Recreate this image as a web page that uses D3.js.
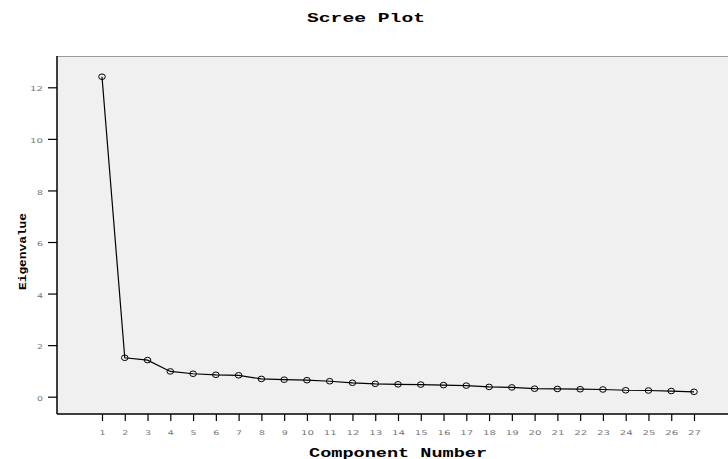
<!DOCTYPE html>
<html>
<head>
<meta charset="utf-8">
<script src="https://cdn.jsdelivr.net/npm/d3@7"></script>
<style>
  body { margin: 0; background: #fff; }
  .tick text { fill: #777; font-family: "DejaVu Sans", sans-serif; font-size: 6.5px; }
</style>
</head>
<body>
<div id="chart"></div>
<script>
// scree plot data
var components = d3.range(1, 28);
var eigenvalues = [12.41, 1.51, 1.42, 0.98, 0.89, 0.85, 0.83, 0.69, 0.66, 0.64,
                   0.60, 0.54, 0.50, 0.48, 0.47, 0.45, 0.43, 0.38, 0.36, 0.31,
                   0.30, 0.29, 0.28, 0.25, 0.24, 0.22, 0.19];
var yTicks = [0, 2, 4, 6, 8, 10, 12];

var width = 728, height = 459;
var margin = {top: 56, right: 0, bottom: 45, left: 57};

var svg = d3.select("#chart").append("svg")
    .attr("width", width)
    .attr("height", height);

var x = d3.scaleLinear()
    .domain([1, 27])
    .range([102, 694]);

var y = d3.scaleLinear()
    .domain([0, 12])
    .range([396.7, 87.3]);

// plot background
svg.append("rect")
    .attr("x", margin.left)
    .attr("y", margin.top)
    .attr("width", width - margin.left - margin.right)
    .attr("height", height - margin.bottom - margin.top)
    .attr("fill", "#f0f0f0");

svg.append("line")
    .attr("x1", margin.left).attr("x2", width)
    .attr("y1", margin.top + 0.5).attr("y2", margin.top + 0.5)
    .attr("stroke", "#999");

// axes
var yAxis = svg.append("g")
    .attr("transform", "translate(" + margin.left + ",0)")
    .call(d3.axisLeft(y).tickValues(yTicks).tickSize(9).tickPadding(5).tickSizeOuter(0));
yAxis.select(".domain").remove();
yAxis.selectAll(".tick text").attr("dy", "0.55em");
yAxis.append("line")
    .attr("x1", 0).attr("x2", 0)
    .attr("y1", margin.top).attr("y2", height - margin.bottom)
    .attr("stroke", "#000").attr("stroke-width", 1.5);

var xAxis = svg.append("g")
    .attr("transform", "translate(0," + (height - margin.bottom) + ")")
    .call(d3.axisBottom(x).tickValues(components).tickSize(7).tickPadding(9).tickSizeOuter(0));
xAxis.select(".domain").remove();
xAxis.append("line")
    .attr("x1", margin.left).attr("x2", width)
    .attr("y1", 0).attr("y2", 0)
    .attr("stroke", "#000").attr("stroke-width", 1.5);

svg.selectAll(".tick line").attr("stroke", "#000").attr("stroke-width", 1.2);
// stretch the small tick labels wide like the original
svg.selectAll(".tick text")
    .attr("textLength", function() { return this.textContent.length * 7 - 1; })
    .attr("lengthAdjust", "spacingAndGlyphs");

// line + markers
var line = d3.line()
    .x(function(d, i) { return x(components[i]); })
    .y(function(d) { return y(d); });

svg.append("path")
    .datum(eigenvalues)
    .attr("d", line)
    .attr("fill", "none")
    .attr("stroke", "#000")
    .attr("stroke-width", 1.2);

svg.selectAll(".pt")
    .data(eigenvalues)
  .enter().append("ellipse")
    .attr("class", "pt")
    .attr("cx", function(d, i) { return x(components[i]); })
    .attr("cy", function(d) { return y(d); })
    .attr("rx", 3.3)
    .attr("ry", 2.8)
    .attr("fill", "none")
    .attr("stroke", "#000")
    .attr("stroke-width", 1);

// titles
svg.append("text")
    .attr("x", 366).attr("y", 21.5)
    .attr("text-anchor", "middle")
    .attr("textLength", 118)
    .attr("lengthAdjust", "spacingAndGlyphs")
    .style("font-family", "Liberation Mono, monospace")
    .style("font-weight", "bold")
    .style("font-size", "12px")
    .text("Scree Plot");

svg.append("text")
    .attr("x", 398).attr("y", 456.5)
    .attr("text-anchor", "middle")
    .attr("textLength", 178)
    .attr("lengthAdjust", "spacingAndGlyphs")
    .style("font-family", "Liberation Mono, monospace")
    .style("font-weight", "bold")
    .style("font-size", "12px")
    .text("Component Number");

svg.append("text")
    .attr("transform", "translate(25.5,251.5) rotate(-90)")
    .attr("text-anchor", "middle")
    .attr("textLength", 77)
    .attr("lengthAdjust", "spacingAndGlyphs")
    .style("font-family", "Liberation Mono, monospace")
    .style("font-weight", "bold")
    .style("font-size", "11px")
    .text("Eigenvalue");
</script>
</body>
</html>
